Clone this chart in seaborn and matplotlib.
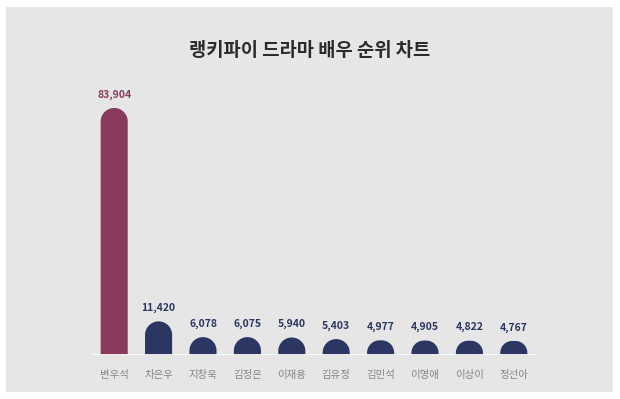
import numpy as np
import pandas as pd
import matplotlib
matplotlib.use("Agg")
import matplotlib.pyplot as plt
from matplotlib.patches import Polygon, Rectangle
import seaborn as sns

# Data
names = ["변우석", "차은우", "지창욱", "김정은", "이재용", "김유정", "김민석", "이영애", "이상이", "정선아"]
votes = [83904, 11420, 6078, 6075, 5940, 5403, 4977, 4905, 4822, 4767]
bar_colors = ["#8a3a5c"] + ["#2b3662"] * 9
title = "랭키파이 드라마 배우 순위 차트"

sns.set_theme(style="white")
plt.rcParams['font.family'] = ['Noto Sans CJK KR', 'DejaVu Sans']

df = pd.DataFrame({"name": names, "votes": votes})

fig = plt.figure(figsize=(6.2, 3.99), dpi=100)
fig.patch.set_facecolor("white")
# gray card behind the chart
fig.patches.append(Rectangle((6 / 620, 7 / 399), 607 / 620, 385 / 399,
                             transform=fig.transFigure, facecolor="#e6e6e6",
                             edgecolor="none", zorder=-10))

ax = fig.add_axes([92 / 620, 44 / 399, 444 / 620, 265 / 399])
ax.set_facecolor("none")

sns.barplot(data=df, x="name", y="votes", hue="name", palette=bar_colors,
            legend=False, width=0.61, saturation=1, ax=ax)
ax.set_xlim(-0.5, len(names) - 0.5)
ax.set_ylim(0, 90000)

# replace flat bars with round-topped ones
px_x = ax.transData.transform((1, 0))[0] - ax.transData.transform((0, 0))[0]
px_y = ax.transData.transform((0, 1000))[1] - ax.transData.transform((0, 0))[1]
px_y = px_y / 1000
for p in list(ax.patches):
    x0, w, h = p.get_x(), p.get_width(), p.get_height()
    col = p.get_facecolor()
    r_px = min(w * px_x / 2, h * px_y * 0.85)
    rx, ry = r_px / px_x, r_px / px_y
    t = np.linspace(0, np.pi / 2, 20)
    left = np.column_stack([x0 + rx - rx * np.cos(t), h - ry + ry * np.sin(t)])
    right = np.column_stack([x0 + w - rx + rx * np.sin(t), h - ry + ry * np.cos(t)])
    verts = np.vstack([[x0, 0], left, right, [x0 + w, 0]])
    p.remove()
    ax.add_patch(Polygon(verts, closed=True, facecolor=col, edgecolor="none", zorder=2))

for i, v in enumerate(votes):
    ax.annotate(f"{v:,}", (i, v), xytext=(0, 6), textcoords="offset points",
                ha="center", va="bottom", fontsize=7.5, fontweight="bold",
                color=bar_colors[i])

ax.axhline(0, color="white", linewidth=2, zorder=3)
sns.despine(ax=ax, left=True, bottom=True)
ax.set_yticks([])
ax.set_xlabel("")
ax.set_ylabel("")
ax.tick_params(axis="x", length=0, pad=11, labelsize=7.5, labelcolor="#858585")

fig.text(0.5, 1 - 51 / 399, title, ha="center", va="center",
         fontsize=13.5, fontweight="bold", color="#2b2b2b")

fig.savefig("out.png", dpi=100)
